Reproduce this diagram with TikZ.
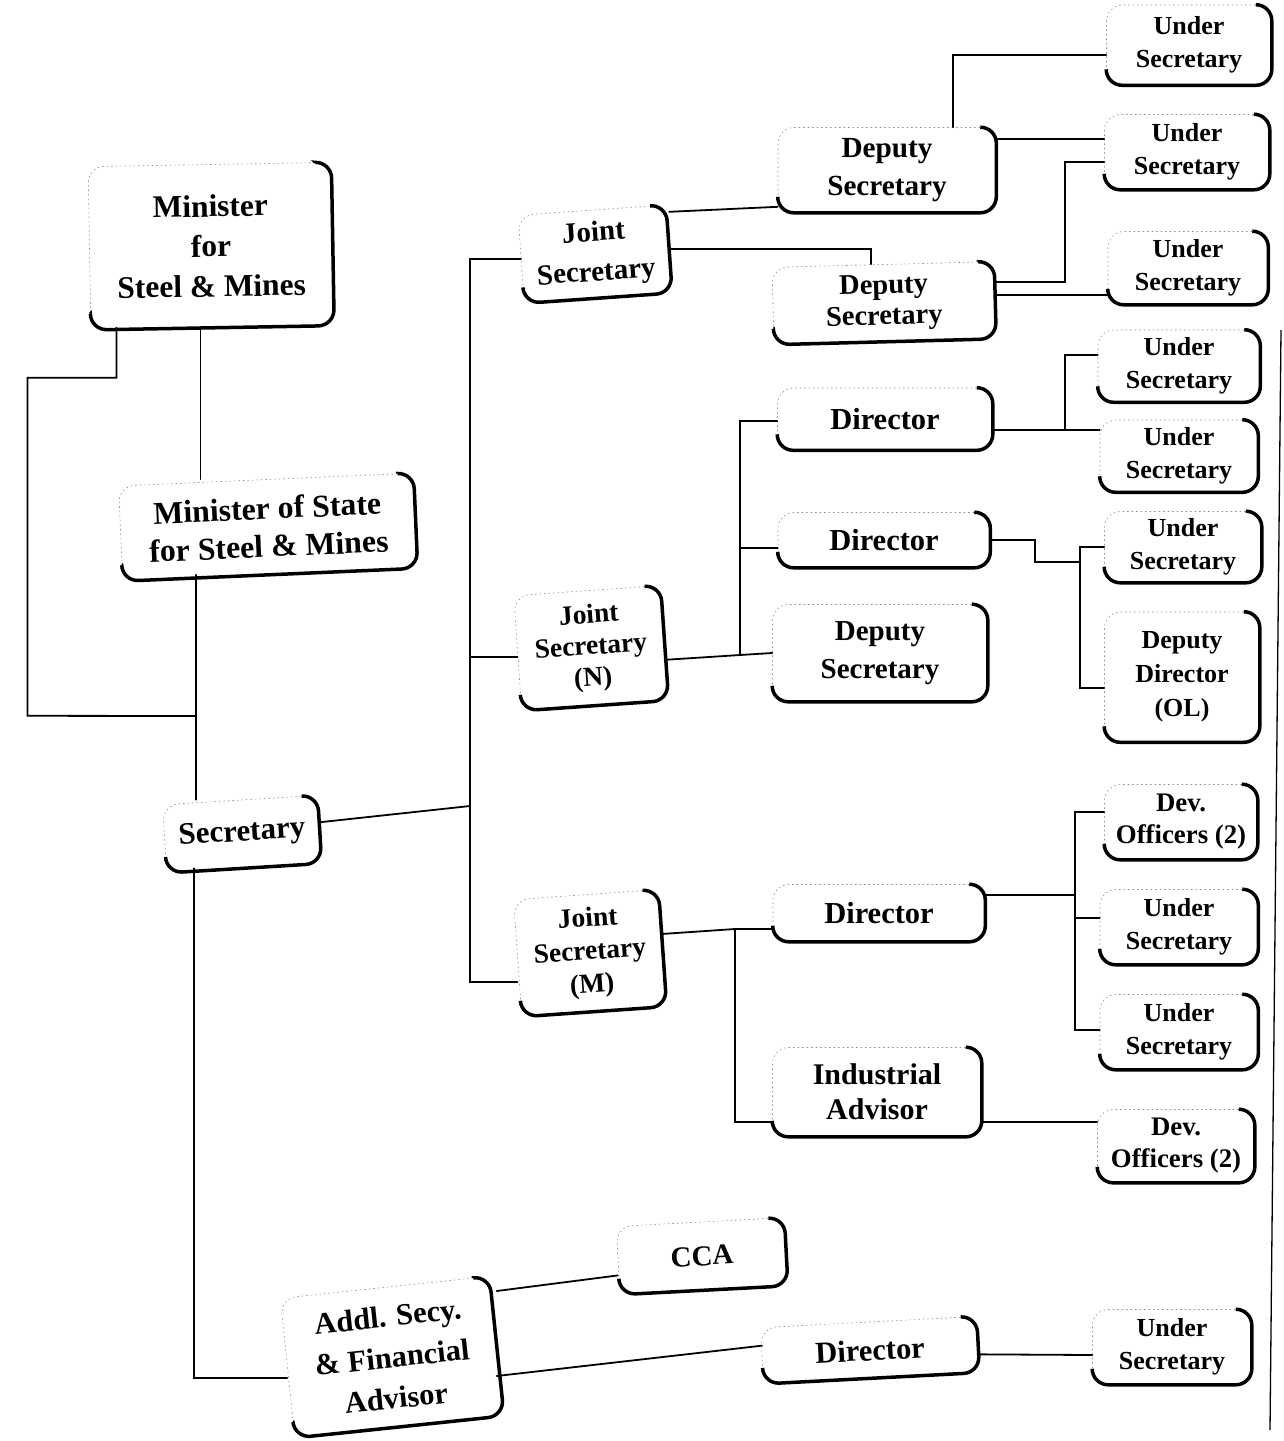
\documentclass[tikz,border=0pt]{standalone}
\usepackage{amsmath}
\usepackage{fontspec}
\setmainfont{Liberation Serif}
\usetikzlibrary{calc}

\tikzset{
  post/.style={rectangle, rounded corners=16pt, draw=black!45, line width=0.6pt,
    dash pattern=on 1.5pt off 3pt, align=center, inner sep=0pt},
  link/.style={line width=1.8pt, line cap=round}
}
\newcommand{\fsz}[2]{\fontsize{#1}{#2}\selectfont\bfseries}

\begin{document}
\begin{tikzpicture}[x=1pt,y=-1pt]
  \useasboundingbox (0,0) rectangle (1283,1441);
  % left column
  \node[post, minimum width=243, minimum height=163, rotate=1, font=\fsz{31.4}{40}] (min) at (211,246) {Minister\\for\\Steel \& Mines};
  \node[post, minimum width=295, minimum height=95, rotate=2.5, font=\fsz{31.8}{38}] (mos) at (268,527) {Minister of State\\for Steel \& Mines};
  \node[post, minimum width=155, minimum height=68, rotate=3.5, font=\fsz{31}{32}] (sec) at (242,834) {Secretary};
  \node[post, minimum width=210, minimum height=140, rotate=6, font=\fsz{30.5}{41}] (afa) at (392,1357) {Addl. Secy.\\\& Financial\\Advisor};
  % joint secretaries
  \node[post, minimum width=148, minimum height=88, rotate=4, font=\fsz{29}{40}] (js) at (595,254) {Joint\\Secretary};
  \node[post, minimum width=147, minimum height=115, rotate=4, font=\fsz{27.5}{31.5}] (jsn) at (591,648) {Joint\\Secretary\\(N)};
  \node[post, minimum width=145, minimum height=117, rotate=4, font=\fsz{27.5}{33}] (jsm) at (590,953) {Joint\\Secretary\\(M)};
  % middle column
  \node[post, minimum width=218, minimum height=85, font=\fsz{29.2}{38}] (dsa) at (887,170) {Deputy\\Secretary};
  \node[post, minimum width=222, minimum height=77, rotate=1.5, font=\fsz{28.5}{31}] (dsb) at (884,303) {Deputy\\Secretary};
  \node[post, minimum width=215, minimum height=62, font=\fsz{30.5}{30}] (dira) at (885,419) {Director};
  \node[post, minimum width=212, minimum height=55, font=\fsz{30.5}{30}] (dirb) at (884,540) {Director};
  \node[post, minimum width=215, minimum height=97, font=\fsz{29}{38}] (dsc) at (880,653) {Deputy\\Secretary};
  \node[post, minimum width=212, minimum height=57, font=\fsz{30.5}{30}] (dirc) at (879,913) {Director};
  \node[post, minimum width=209, minimum height=89, font=\fsz{30}{35}] (ind) at (877,1092) {Industrial\\Advisor};
  \node[post, minimum width=168, minimum height=68, rotate=3, font=\fsz{29}{30}] (cca) at (702,1256) {CCA};
  \node[post, minimum width=216, minimum height=56, rotate=3, font=\fsz{30.5}{30}] (dird) at (870,1350) {Director};
  % right column
  \node[post, minimum width=165, minimum height=80, font=\fsz{26}{33}] (usa) at (1189,45) {Under\\Secretary};
  \node[post, minimum width=165, minimum height=75, font=\fsz{26}{33}] (usb) at (1187,152) {Under\\Secretary};
  \node[post, minimum width=160, minimum height=73, font=\fsz{26}{33}] (usc) at (1188,268) {Under\\Secretary};
  \node[post, minimum width=162, minimum height=72, font=\fsz{26}{33}] (usd) at (1179,366) {Under\\Secretary};
  \node[post, minimum width=158, minimum height=72, font=\fsz{26}{33}] (use) at (1179,456) {Under\\Secretary};
  \node[post, minimum width=157, minimum height=71, font=\fsz{26}{33}] (usf) at (1183,547) {Under\\Secretary};
  \node[post, minimum width=155, minimum height=130, font=\fsz{26}{34}] (ddol) at (1182,677) {Deputy\\Director\\(OL)};
  \node[post, minimum width=153, minimum height=75, font=\fsz{26.8}{32}] (doa) at (1181,822) {Dev.\\Officers (2)};
  \node[post, minimum width=158, minimum height=75, font=\fsz{26}{33}] (usg) at (1179,927) {Under\\Secretary};
  \node[post, minimum width=158, minimum height=75, font=\fsz{26}{33}] (ush) at (1179,1032) {Under\\Secretary};
  \node[post, minimum width=157, minimum height=73, font=\fsz{26.8}{32}] (dob) at (1176,1146) {Dev.\\Officers (2)};
  \node[post, minimum width=159, minimum height=75, font=\fsz{26}{33}] (usi) at (1172,1347) {Under\\Secretary};
  % heavy right and bottom edges
  \foreach \n in {min,mos,sec,afa,js,jsn,jsm,dsa,dsb,dira,dirb,dsc,dirc,ind,cca,dird,usa,usb,usc,usd,use,usf,ddol,doa,usg,ush,dob,usi}
    \draw[line width=3.5pt, rounded corners=16pt]
      ($(\n.north east)!16pt!(\n.north west)$) -- (\n.north east) -- (\n.south east)
      -- (\n.south west) -- ($(\n.south west)!16pt!(\n.north west)$);

  % minister to secretary
  \coordinate (ma) at ([xshift=-12]min.south);
  \coordinate (mb) at ([xshift=-96]min.south);
  \coordinate (sa) at ([xshift=-44]sec.north);
  \coordinate (sb) at ([xshift=-50]sec.south);
  \coordinate (mj) at (196,716);
  \draw[link] (ma) -- (ma |- mos.north);
  \draw[link] (sa |- mos.south) -- (sa);
  \draw[link] (mb) -- ++(0,50) -| ++(-89,338) -- (mj);
  \draw[link] (sb) |- ([yshift=-10]afa.west);
  % secretary to joint secretaries
  \coordinate (ta) at (470,806);
  \draw[link] ([yshift=7]sec.east) -- (ta);
  \draw[link] (ta) |- (js.west);
  \draw[link] (ta) |- ([yshift=-4]jsn.west);
  \draw[link] (ta) |- ([yshift=-24]jsm.west);
  % joint secretary
  \draw[link] ([yshift=37]js.east) -- ([yshift=6]dsa.south west);
  \draw[link] (js.east) -| ([xshift=-12]dsb.north);
  \draw[link] ([xshift=66]dsa.north) |- ([yshift=-10]usa.west);
  \draw[link] ([yshift=31]dsa.east) -- ([yshift=13]usb.west);
  \draw[link] ([yshift=18]dsb.east) -- ++(70,0) |- ([yshift=-10]usb.west);
  \draw[link] ([yshift=5]dsb.east) -- ([yshift=-27]usc.west);
  % joint secretary (N)
  \coordinate (tb) at (740,655);
  \draw[link] ([yshift=-17]jsn.east) -- (tb);
  \draw[link] (tb) |- ([yshift=-2]dira.west);
  \draw[link] (tb) |- ([yshift=-8]dirb.west);
  \draw[link] (tb) -- (dsc.west);
  \coordinate (ba) at (1065,430);
  \draw[link] ([yshift=-11]dira.east) -- ([yshift=26]use.west);
  \draw[link] (ba) |- ([yshift=11]usd.west);
  \coordinate (bb) at (1080,562);
  \draw[link] (dirb.east) -- ++(45,0) |- (bb);
  \draw[link] (usf.west) -| (bb) |- ([yshift=-11]ddol.west);
  % joint secretary (M)
  \coordinate (tc) at (735,929);
  \draw[link] ([yshift=14]jsm.east) -- (tc) -- ([yshift=-16]dirc.west);
  \draw[link] (tc) |- ([yshift=-30]ind.west);
  \coordinate (bc) at (1075,895);
  \draw[link] ([yshift=18]dirc.east) -- (bc);
  \draw[link] ([yshift=10]doa.west) -| (bc) |- ([yshift=2]ush.west);
  \draw[link] (bc) |- ([yshift=9]usg.west);
  \draw[link] ([yshift=-30]ind.east) -- ([yshift=24]dob.west);
  % financial advisor
  \draw[link] ([yshift=55]afa.east) -- ([yshift=-15]cca.west);
  \draw[link] ([yshift=-30]afa.east) -- ([yshift=10]dird.west);
  \draw[link] ([yshift=-10]dird.east) -- ([yshift=-8]usi.west);
  % page edge
  \draw[line width=1.3pt] (1281,330) -- (1270,1430);
\end{tikzpicture}
\end{document}
